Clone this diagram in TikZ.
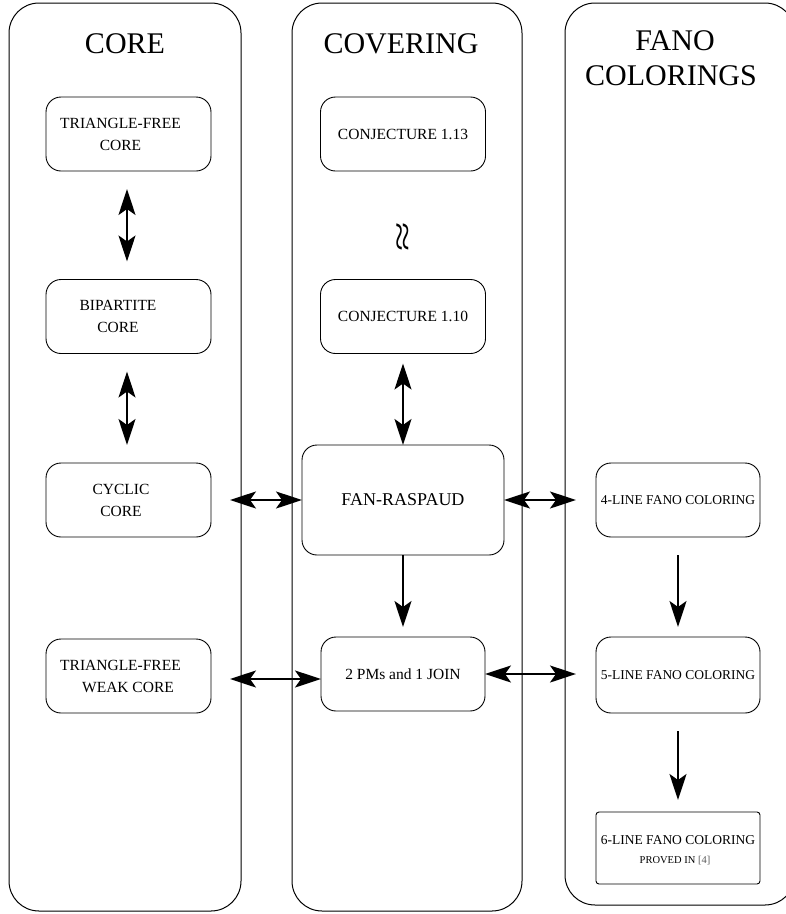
\documentclass[tikz,border=0pt]{standalone}
\usepackage{fontspec}
\setmainfont{Liberation Serif}
\usetikzlibrary{arrows.meta}
\begin{document}
\begin{tikzpicture}[x=1pt,y=-1pt,
  col/.style={draw, line width=1pt, rounded corners=30pt, inner sep=0pt, outer sep=0pt},
  titletxt/.style={font=\fontsize{30}{35}\selectfont, inner sep=0pt, anchor=base},
  box/.style={draw, line width=0.9pt, rounded corners=15pt, minimum width=165pt, minimum height=74pt, inner sep=0pt, outer sep=0pt},
  txtA/.style={font=\fontsize{15.5}{22}\selectfont, align=center, inner sep=0pt},
  txtB/.style={font=\fontsize{15.5}{20}\selectfont, align=center, inner sep=0pt},
  txtC/.style={font=\fontsize{13.5}{18}\selectfont, align=center, inner sep=0pt},
  tipS/.tip={Stealth[length=26pt,width=17pt,inset=6pt]},
  dbl/.style={tipS-tipS, line width=2pt},
  one/.style={-tipS, line width=2pt}]
\useasboundingbox (0,0) rectangle (786,914);
% columns
\node[col, minimum width=232pt, minimum height=908pt] (c1) at (125,457) {};
\node[col, minimum width=230pt, minimum height=908pt] (c2) at (407,457) {};
\node[col, minimum width=230pt, minimum height=902pt] (c3) at (680,454) {};
% titles
\node[titletxt] (t1) at (125,53) {CORE};
\node[titletxt] (t2) at (401,53) {COVERING};
\node[titletxt] (t3a) at (675,50) {FANO};
\node[titletxt] (t3b) at (671,85) {COLORINGS};
% column 1
\node[box] (tfc) at (128.5,134) {};
\node[txtA] (tfcT) at (120.5,134) {TRIANGLE-FREE\\CORE};
\node[box] (bip) at (128.5,316.5) {};
\node[txtA] (bipT) at (118,316.5) {BIPARTITE\\CORE};
\node[box] (cyc) at (128.5,500) {};
\node[txtA] (cycT) at (121,500) {CYCLIC\\CORE};
\node[box] (weak) at (128.5,676) {};
\node[txtA] (weakT) at (120.5,676) {TRIANGLE-FREE\\\hspace*{15pt}WEAK CORE};
% column 2
\node[box, txtB] (c13) at (403,134) {CONJECTURE 1.13};
\node[inner sep=0pt] (wv) at (405,237) {\scalebox{0.9}[1.5]{\rotatebox{90}{\fontsize{36}{36}\selectfont ≈}}};
\node[box, txtB] (c10) at (403,316.5) {CONJECTURE 1.10};
\node[box, font=\fontsize{18}{22}\selectfont, minimum width=202pt, minimum height=110pt] (fan) at (403,500) {FAN-RASPAUD};
\node[box, txtB, minimum width=164pt] (pm) at (403,674) {2 PMs and 1 JOIN};
% column 3
\node[box, txtC, minimum width=164pt] (l4) at (678,500) {4-LINE FANO COLORING};
\node[box, txtC, minimum width=164pt, minimum height=76pt] (l5) at (678,675) {5-LINE FANO COLORING};
\node[box, rounded corners=3pt, minimum width=164pt, minimum height=72pt] (l6) at (678,848) {};
\node[txtC, anchor=base] (l6a) at (678,844) {6-LINE FANO COLORING};
\node[font=\fontsize{10.5}{12}\selectfont, inner sep=0pt, anchor=base] (l6b) at (675,863) {PROVED IN {\color{black!65}[4]}};
% arrows
\draw[dbl, shorten <=18pt, shorten >=18pt] ([xshift=-1.5pt]tfc.south) -- ([xshift=-1.5pt]bip.north);
\draw[dbl, shorten <=18pt, shorten >=18pt] ([xshift=-1.5pt]bip.south) -- ([xshift=-1.5pt]cyc.north);
\draw[dbl, shorten <=10pt] (c10.south) -- (fan.north);
\draw[one, shorten >=10pt] (fan.south) -- (pm.north);
\draw[dbl, shorten <=19pt] (cyc.east) -- (fan.west);
\draw[dbl, shorten >=20pt] (fan.east) -- (l4.west);
\draw[dbl, shorten <=19pt] ([yshift=-3pt]weak.east) -- ([yshift=-3pt]weak.east -| pm.west);
\draw[dbl, shorten >=20pt] (pm.east) -- (pm.east -| l5.west);
\draw[one, shorten <=18pt, shorten >=10pt] (l4.south) -- (l5.north);
\draw[one, shorten <=18pt, shorten >=12pt] (l5.south) -- (l6.north);
\end{tikzpicture}
\end{document}
